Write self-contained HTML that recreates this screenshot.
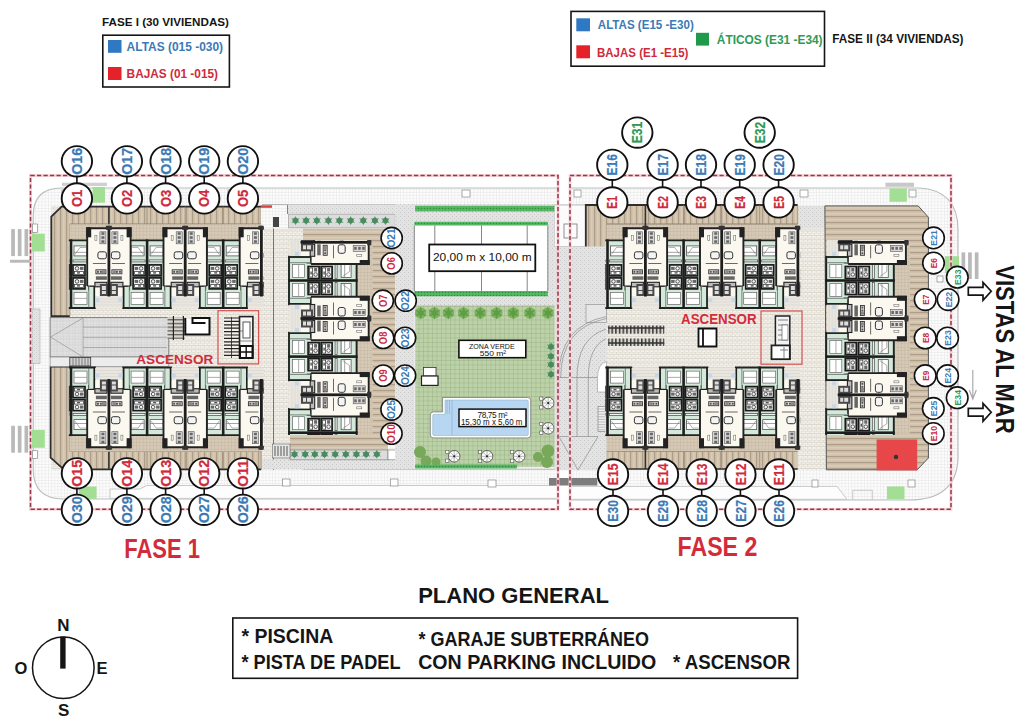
<!DOCTYPE html><html><head><meta charset="utf-8"><style>html,body{margin:0;padding:0;background:#fff;}svg{display:block;font-family:"Liberation Sans",sans-serif;}</style></head><body>
<svg width="1024" height="723" viewBox="0 0 1024 723">
<rect width="1024" height="723" fill="#fff"/>
<defs>
<pattern id="grid" width="3.2" height="3.2" patternUnits="userSpaceOnUse"><rect width="3.2" height="3.2" fill="#fbfbfb"/><path d="M0 0H3.2M0 0V3.2" stroke="#d9d9d9" stroke-width="0.6"/></pattern>
<pattern id="brick" width="4.4" height="4.4" patternUnits="userSpaceOnUse"><rect width="4.4" height="4.4" fill="#f5f2eb"/><path d="M0 0H4.4M0 2.2H4.4M0.2 0V2.2M2.4 2.2V4.4" stroke="#cfcabf" stroke-width="0.6"/></pattern>
<pattern id="deckV" width="6" height="6" patternUnits="userSpaceOnUse"><rect width="6" height="6" fill="#d0c1ab"/><rect x="0" y="0" width="1.2" height="6" fill="#ae9e89"/><rect x="3" y="0" width="1.5" height="6" fill="#d9cbb6"/></pattern>
<pattern id="deckH" width="6" height="6" patternUnits="userSpaceOnUse"><rect width="6" height="6" fill="#d0c1ab"/><rect x="0" y="0" width="6" height="1.2" fill="#ae9e89"/><rect x="0" y="3" width="6" height="1.5" fill="#d9cbb6"/></pattern>
<pattern id="tgrid" width="3.4" height="3.4" patternUnits="userSpaceOnUse"><rect width="3.4" height="3.4" fill="#d6c9b6"/><path d="M0 0H3.4M0 0V3.4" stroke="#b9aa94" stroke-width="0.6"/></pattern>
<pattern id="gravel" width="4" height="4" patternUnits="userSpaceOnUse"><rect width="4" height="4" fill="#e3e3e3"/><rect x="0" y="0" width="1" height="1" fill="#c8c8c8"/><rect x="2" y="2" width="1" height="1" fill="#cfcfcf"/></pattern>
<pattern id="grass" width="4.5" height="4.5" patternUnits="userSpaceOnUse"><rect width="4.5" height="4.5" fill="#bcd1a8"/><path d="M0 0H4.5M0 0V4.5" stroke="#91ae7e" stroke-width="0.8"/></pattern>
<pattern id="hedge" width="3" height="3" patternUnits="userSpaceOnUse"><rect width="3" height="3" fill="#56b862"/><circle cx="1.5" cy="1.5" r="0.8" fill="#2f8f3c"/></pattern>
<pattern id="bikes" width="3.7" height="8" patternUnits="userSpaceOnUse"><rect width="3.7" height="8" fill="#d9d6cf"/><rect x="1" width="1.4" height="8" fill="#2a2a2a"/></pattern>
<pattern id="bikesV" width="8" height="3.7" patternUnits="userSpaceOnUse"><rect width="8" height="3.7" fill="#d9d6cf"/><rect y="1" width="8" height="1.2" fill="#555"/></pattern>
<pattern id="ramp" width="6" height="6" patternUnits="userSpaceOnUse"><rect width="6" height="6" fill="#e0e0e0"/><path d="M0 0H6M0 3H6M0 0V6M3 0V6" stroke="#cdcdcd" stroke-width="0.5"/></pattern>
</defs>
<path d="M61.5 188 H558 V499 H63.7 Q33.2 499 33.2 469.3 V216 Q33.2 188 61.5 188 Z" fill="url(#grid)" stroke="#bdbdbd" stroke-width="1.2"/>
<path d="M570 188 H919 Q958 190 958 230 V459 Q956 500 909 500 H570 Z" fill="url(#grid)" stroke="#bdbdbd" stroke-width="1.2"/>
<path d="M110 489 H139.8 L146.5 485.5 H558 V498.4 H110 Z" fill="#fdfdfd" stroke="#c4c4c4" stroke-width="0.9"/>
<path d="M570 486.4 H837 L846.9 499.3 H570 Z" fill="#fdfdfd" stroke="#c4c4c4" stroke-width="0.9"/>
<path d="M852.7 499.5 V490.3 H872.3 V499.5" fill="none" stroke="#c4c4c4" stroke-width="0.9"/>
<path d="M262 204.6 H555 M262 469.2 H555" stroke="#a8a8a8" stroke-width="0.9"/>
<rect x="554.6" y="204.6" width="31.4" height="265.4" fill="url(#gravel)" />
<rect x="554.6" y="205.0" width="30.7" height="41.5" fill="#fbfbfb" stroke="#999" stroke-width="0.6"/>
<rect x="564.0" y="224.0" width="13.0" height="14.0" fill="none" stroke="#777" stroke-width="0.8"/>
<rect x="32.0" y="309.0" width="8.0" height="54.5" fill="url(#gravel)" stroke="#aaa" stroke-width="0.6"/>
<rect x="51.0" y="206.0" width="252.0" height="264.0" fill="url(#brick)" />
<path d="M51.3 216.6 L61.6 206.6 H261.2 V224.1 H69.9 V316.2 H51.3 Z" fill="url(#deckV)"/>
<path d="M69.9 316.2 H51.3 V216.6 L61.6 206.6 H261.2" fill="none" stroke="#2e2e2e" stroke-width="1.8"/>
<path d="M261.2 206.6 V224.1 H69.9 V316.2" fill="none" stroke="#9a8b76" stroke-width="0.8"/>
<path d="M50.6 457.6 L63.7 469.3 H261.2 V451.5 H69.9 V366.6 H50.6 Z" fill="url(#deckV)"/>
<path d="M69.9 366.6 H50.6 V457.6 L63.7 469.3 H261.2" fill="none" stroke="#2e2e2e" stroke-width="1.8"/>
<path d="M261.2 469.3 V451.5 H69.9 V366.6" fill="none" stroke="#9a8b76" stroke-width="0.8"/>
<rect x="50.1" y="317.6" width="118.7" height="39.4" fill="url(#ramp)" stroke="#777" stroke-width="0.9"/>
<path d="M83 327.1 H167 M83 337.3 H167 M83 347.5 H167 M83 318 L50.5 337 L83 357 M83.1 317.6 V357" stroke="#8a8a8a" stroke-width="0.6" fill="none"/>
<rect x="50.1" y="357.0" width="118.7" height="9.6" fill="#ececec" stroke="#888" stroke-width="0.7"/>
<rect x="69.8" y="357.5" width="20.9" height="8.5" fill="#d0d0d0" stroke="#333" stroke-width="0.8"/>
<path d="M73 358 V366 M76 358 V366 M79 358 V366 M82 358 V366 M85 358 V366 M88 358 V366" stroke="#444" stroke-width="0.6"/>
<rect x="167.5" y="317.0" width="17.2" height="22.0" fill="url(#bikesV)" />
<path d="M173.4 316 V340 M183.4 316 V340" stroke="#222" stroke-width="1.2"/>
<path d="M185.3 318 V334.5 H209.5 V318 H192.5 V323 H205.5" fill="#fff" stroke="#111" stroke-width="2"/>
<rect x="218.0" y="310.7" width="40.6" height="53.2" fill="none" stroke="#d75050" stroke-width="1.2"/>
<rect x="223.4" y="316.6" width="16.1" height="41.4" fill="#f3efe6" />
<path d="M224 318.0 H239 M224 321.4 H239 M224 324.8 H239 M224 328.2 H239 M224 331.6 H239 M224 335.0 H239 M224 338.4 H239 M224 341.8 H239 M224 345.2 H239 M224 348.6 H239 M224 352.0 H239 M224 355.4 H239 " stroke="#222" stroke-width="1.2"/>
<path d="M231.5 317 V358" stroke="#222" stroke-width="0.8"/>
<rect x="239.5" y="316.6" width="13.4" height="41.4" fill="#f7f7f7" stroke="#222" stroke-width="1.6"/>
<rect x="243.0" y="322.0" width="7.0" height="16.0" fill="#fff" stroke="#444" stroke-width="0.9"/>
<path d="M240 331 H243 M240 341 H252.5" stroke="#555" stroke-width="0.7"/>
<rect x="240.0" y="346.0" width="12.5" height="12.0" fill="#fff" stroke="#111" stroke-width="2"/>
<path d="M246.2 347 V357 M241 352 H252" stroke="#111" stroke-width="1.4"/>
<rect x="261.0" y="205.0" width="27.0" height="23.5" fill="url(#grid)" />
<rect x="288.0" y="205.0" width="15.0" height="9.2" fill="url(#gravel)" />
<rect x="260.9" y="205.3" width="11.1" height="2.5" fill="#e0403f" />
<path d="M287.6 205 V214 M273.5 228.5 V470" stroke="#555" stroke-width="0.8"/>
<rect x="273.0" y="217.0" width="6.0" height="10.0" fill="#444" />
<path d="M108.9 206.6 V228.5 M108.9 446.6 V468.8 M645.4 205 V228.5 M645.4 446.6 V469" stroke="#333" stroke-width="1.6"/>
<path d="M147.1 206.6 V224 M185.2 206.6 V228 M223.2 206.6 V224 M147.1 451.5 V468.8 M185.2 446.6 V468.8 M223.2 451.5 V468.8 M69.9 224.1 H261.2 M69.9 451.5 H261.2" stroke="#8a7c6a" stroke-width="0.7"/>
<rect x="262.0" y="459.5" width="133.2" height="9.7" fill="url(#gravel)" />
<rect x="288.0" y="204.6" width="107.2" height="9.6" fill="url(#gravel)" />
<rect x="288.7" y="214.2" width="106.5" height="13.6" fill="#dcdcdc" stroke="#999" stroke-width="0.6"/>
<rect x="303.0" y="228.7" width="92.2" height="204.3" fill="url(#deckH)" />
<rect x="290.0" y="433.0" width="98.0" height="17.0" fill="url(#deckH)" />
<rect x="290.0" y="450.0" width="98.0" height="9.8" fill="#dcdcdc" stroke="#888" stroke-width="0.7"/>
<rect x="388.0" y="450.0" width="9.0" height="9.8" fill="#fff" stroke="#777" stroke-width="0.6"/>
<rect x="272.5" y="444.0" width="17.5" height="14.0" fill="#e6e6e6" stroke="#666" stroke-width="0.6"/>
<path d="M275 446 V456 M278 446 V456 M281 446 V456 M284 446 V456 M287 446 V456" stroke="#333" stroke-width="0.8"/>
<rect x="395.2" y="204.0" width="19.4" height="265.2" fill="url(#gravel)" />
<rect x="414.6" y="204.0" width="140.0" height="101.2" fill="url(#gravel)" />
<rect x="415.2" y="205.8" width="139.1" height="5.6" fill="url(#hedge)" />
<rect x="414.3" y="221.7" width="133.5" height="74.7" fill="#fff" />
<rect x="414.3" y="221.7" width="133.5" height="3.8" fill="url(#hedge)" />
<rect x="414.3" y="291.0" width="133.5" height="5.4" fill="url(#hedge)" />
<path d="M414.3 225.5 V291 M547.8 225.5 V291 M434.8 225.5 V291 M481.5 225.5 V291 M527.2 225.5 V291" stroke="#666" stroke-width="0.8"/>
<rect x="429.2" y="244.5" width="106.1" height="26.7" fill="#fff" stroke="#111" stroke-width="1.8"/>
<text x="482.3" y="261.3" font-size="11.5" fill="#111" text-anchor="middle" textLength="98.6" lengthAdjust="spacingAndGlyphs">20,00 m x 10,00 m</text>
<rect x="415.2" y="305.2" width="139.6" height="161.7" fill="url(#grass)" />
<defs><g id="palm"><path d="M0 -4.6 L1.4 -1.5 L4.3 -2.6 L2.3 0 L4.3 2.6 L1.4 1.5 L0 4.6 L-1.4 1.5 L-4.3 2.6 L-2.3 0 L-4.3 -2.6 L-1.4 -1.5 Z" fill="#5b9a6e"/><circle r="2.8" fill="#4a8a5f"/></g><g id="bigtree"><circle r="5.8" fill="#7db35f"/><path d="M0 -6.5 L1.5 -2 L6 -3.5 L2.5 0 L6 3.5 L1.5 2 L0 6.5 L-1.5 2 L-6 3.5 L-2.5 0 L-6 -3.5 L-1.5 -2 Z" fill="#5e9c45"/></g><g id="umb"><rect x="-8.5" y="-6" width="3.2" height="3.2" fill="#fff" stroke="#555" stroke-width="0.6"/><rect x="-8.5" y="2.8" width="3.2" height="3.2" fill="#fff" stroke="#555" stroke-width="0.6"/><circle r="5.8" fill="#fff" stroke="#444" stroke-width="0.8"/><path d="M-5.5 0H5.5M0 -5.5V5.5M-3.9 -3.9L3.9 3.9M-3.9 3.9L3.9 -3.9" stroke="#666" stroke-width="0.5"/><circle r="1" fill="#222"/></g></defs>
<use href="#palm" x="295.5" y="220.6"/>
<use href="#palm" x="306.1" y="220.6"/>
<use href="#palm" x="316.8" y="220.6"/>
<use href="#palm" x="328.4" y="220.6"/>
<use href="#palm" x="339.4" y="220.6"/>
<use href="#palm" x="350.7" y="220.6"/>
<use href="#palm" x="363.3" y="220.6"/>
<use href="#palm" x="374.9" y="220.6"/>
<use href="#palm" x="385.5" y="220.6"/>
<use href="#palm" x="294.5" y="454.2"/>
<use href="#palm" x="305.2" y="454.2"/>
<use href="#palm" x="314.8" y="454.2"/>
<use href="#palm" x="324.5" y="454.2"/>
<use href="#palm" x="335.2" y="454.2"/>
<use href="#palm" x="345.8" y="454.2"/>
<use href="#palm" x="356.4" y="454.2"/>
<use href="#palm" x="366.1" y="454.2"/>
<use href="#palm" x="376.8" y="454.2"/>
<use href="#bigtree" x="420.7" y="313"/>
<use href="#bigtree" x="434.5" y="313"/>
<use href="#bigtree" x="448.4" y="313"/>
<use href="#bigtree" x="463.6" y="313"/>
<use href="#bigtree" x="480.2" y="313"/>
<use href="#bigtree" x="496.7" y="313"/>
<use href="#bigtree" x="513.3" y="313"/>
<use href="#bigtree" x="529.9" y="313"/>
<use href="#bigtree" x="547.9" y="313"/>
<use href="#palm" x="551" y="346.7"/>
<use href="#palm" x="551" y="356.3"/>
<use href="#palm" x="551" y="364.6"/>
<use href="#palm" x="551" y="374.3"/>
<circle cx="420" cy="452" r="6" fill="#78a85a"/>
<circle cx="426" cy="461" r="5.5" fill="#78a85a"/>
<circle cx="436" cy="462" r="4.5" fill="#78a85a"/>
<circle cx="538" cy="457" r="5" fill="#78a85a"/>
<circle cx="548" cy="451" r="6.5" fill="#78a85a"/>
<circle cx="547" cy="462" r="6" fill="#78a85a"/>
<rect x="415.2" y="464.5" width="101.8" height="4.0" fill="url(#hedge)" />
<path d="M442.6 397.5 H527.7 Q530.7 397.5 530.7 400.5 V434.9 Q530.7 437.9 527.7 437.9 H433.3 Q430.3 437.9 430.3 434.9 V414.9 Q430.3 411.9 433.3 411.9 H442.6 Z" fill="#fff" stroke="#777" stroke-width="0.8"/>
<path d="M445 400 H527 Q528.3 400 528.3 401.5 V434 Q528.3 435.5 527 435.5 H434 Q432.7 435.5 432.7 434 V415.5 Q432.7 414.3 434 414.3 H445 Z" fill="#b6d6f2" stroke="#8ab" stroke-width="0.5"/>
<path d="M447 400 V414 M449.5 400 V414 M452 400 V435.5" stroke="#8aa9c9" stroke-width="0.6"/>
<rect x="459.0" y="409.1" width="67.0" height="17.5" fill="#fff" stroke="#111" stroke-width="1.5"/>
<text x="492.5" y="418" font-size="8.3" fill="#111" text-anchor="middle" textLength="30">78,75 m²</text>
<text x="491.7" y="424.9" font-size="8.3" fill="#111" text-anchor="middle" textLength="61.5" lengthAdjust="spacingAndGlyphs">15,30 m x 5,60 m</text>
<use href="#umb" x="548.2" y="403"/>
<use href="#umb" x="548.2" y="428.3"/>
<use href="#umb" x="454.2" y="456.3"/>
<use href="#umb" x="487" y="456.3"/>
<use href="#umb" x="519.1" y="456.3"/>
<rect x="458.9" y="340.3" width="66.9" height="17.4" fill="#fff" stroke="#111" stroke-width="1.6"/>
<text x="491.8" y="348.6" font-size="6.8" fill="#111" text-anchor="middle" textLength="45.7" lengthAdjust="spacingAndGlyphs">ZONA VERDE</text>
<text x="493" y="356.3" font-size="7.6" fill="#111" text-anchor="middle" textLength="26.4" lengthAdjust="spacingAndGlyphs">550 m²</text>
<rect x="423.5" y="367.4" width="12.5" height="8.6" fill="#fff" stroke="#333" stroke-width="0.8"/>
<rect x="421.5" y="376.0" width="16.5" height="9.4" fill="#fff" stroke="#222" stroke-width="1.2"/>
<rect x="606.7" y="206.0" width="231.3" height="264.0" fill="url(#brick)" />
<rect x="799.0" y="205.9" width="26.0" height="22.5" fill="url(#gravel)" />
<path d="M585.8 205 H797.7 V224.1 H606.6 V304.6 H585.8 Z" fill="url(#deckV)"/>
<path d="M606.6 304.6 H585.8 V205 H797.7" fill="none" stroke="#2e2e2e" stroke-width="1.8"/>
<path d="M797.7 205 V224.1 H606.6 V304.6" fill="none" stroke="#9a8b76" stroke-width="0.8"/>
<path d="M585.8 469 H797.7 V451.5 H606.6 V366.6 H585.8 Z" fill="url(#deckV)"/>
<path d="M606.6 469 H797.7" fill="none" stroke="#2e2e2e" stroke-width="1.5"/>
<rect x="554.6" y="246.5" width="52.1" height="223.7" fill="url(#gravel)" />
<rect x="586.0" y="304.4" width="20.5" height="18.3" fill="#e6e6e6" stroke="#888" stroke-width="0.6"/>
<path d="M606 316.6 Q558.7 326 558.7 378 V470 M606 318.6 Q560.7 328 560.7 378" stroke="#8d8d8d" stroke-width="0.7" fill="none"/>
<path d="M606 329.2 Q577 338 577 378 V436.5 M606 338.7 Q588.3 347 588.3 378 V436.5 M558.7 377.5 H597.5 M557 436.5 H598 L578 470 L559 436.5" stroke="#8d8d8d" stroke-width="0.7" fill="none"/>
<path d="M606.5 361.5 Q597.5 364 597.5 378 V392 H606.5 Z" fill="#fff" stroke="#999" stroke-width="0.6"/>
<rect x="598.0" y="406.6" width="8.4" height="24.9" fill="#eee" stroke="#777" stroke-width="0.6"/>
<path d="M598 409.0 H606.4 M598 411.6 H606.4 M598 414.2 H606.4 M598 416.8 H606.4 M598 419.4 H606.4 M598 422.0 H606.4 M598 424.6 H606.4 M598 427.2 H606.4 M598 429.8 H606.4 " stroke="#888" stroke-width="0.5"/>
<rect x="549.0" y="478.0" width="48.3" height="7.5" fill="#7d7d7d" />
<path d="M824.9 205.9 H918.2 L928.4 217.2 V458 L917.2 469.8 H826.4 Z" fill="url(#deckH)" stroke="#555" stroke-width="1"/>
<rect x="876.6" y="439.5" width="40.6" height="30.9" fill="#e8474a" />
<circle cx="896" cy="457" r="2.2" fill="#333"/>
<rect x="608.2" y="325.5" width="56.1" height="8.2" fill="url(#bikes)" />
<rect x="608.2" y="338.5" width="56.1" height="7.5" fill="url(#bikes)" />
<path d="M608.2 328 H664.3 M608.2 343 H664.3" stroke="#333" stroke-width="1.3"/>
<path d="M698.5 328.5 V346.5 H716.5 V328.5 Z M703 328.5 V346.5" fill="#fff" stroke="#111" stroke-width="1.8"/>
<rect x="761.0" y="311.0" width="41.0" height="53.2" fill="none" stroke="#d75050" stroke-width="1.2"/>
<rect x="775.4" y="316.0" width="14.4" height="43.2" fill="#f2f2f2" stroke="#222" stroke-width="1.5"/>
<rect x="771.5" y="345.4" width="18.3" height="13.8" fill="#fff" stroke="#222" stroke-width="1.8"/>
<path d="M778 320 H788 M778 325 H788 M778 330 H788 M778 335 H788 M778 340 H788 M780 350 H788 M784 347 V358" stroke="#555" stroke-width="0.7"/>
<rect x="782.0" y="325.0" width="6.0" height="15.0" fill="#fff" stroke="#666" stroke-width="0.7"/>
<defs><clipPath id="blkclip"><rect x="68.8" y="200" width="194.9" height="120"/></clipPath><g id="unitsTop" clip-path="url(#blkclip)">
<rect x="51.20" y="240.40" width="39.60" height="67.60" fill="#d3eadb" />
<rect x="47.20" y="285.90" width="47.60" height="22.10" fill="#d3eadb" />
<rect x="55.00" y="245.90" width="13.00" height="10.00" fill="#fff" stroke="#555" stroke-width="0.8"/>
<rect x="55.00" y="251.90" width="13.00" height="0.60" fill="#666" />
<path d="M67.00 254.40 L62.00 247.40 M62.00 247.40 H56.00" stroke="#777" stroke-width="0.6" fill="none"/>
<rect x="54.00" y="259.90" width="15.00" height="2.00" fill="#f4f4f4" stroke="#444" stroke-width="0.7"/>
<rect x="57.00" y="264.90" width="12.00" height="11.00" fill="#f2f2f2" stroke="#1a1a1a" stroke-width="1.7"/>
<circle cx="65.00" cy="268.40" r="1.8" fill="none" stroke="#333" stroke-width="0.8"/>
<rect x="58.50" y="266.90" width="3.50" height="3.00" fill="#666" />
<rect x="58.50" y="271.40" width="9.00" height="3.00" fill="#fff" stroke="#444" stroke-width="0.8"/>
<rect x="62.00" y="272.20" width="3.00" height="1.40" fill="#555" />
<rect x="57.00" y="277.90" width="12.00" height="11.00" fill="#f2f2f2" stroke="#1a1a1a" stroke-width="1.7"/>
<circle cx="65.00" cy="281.40" r="1.8" fill="none" stroke="#333" stroke-width="0.8"/>
<rect x="58.50" y="279.90" width="3.50" height="3.00" fill="#666" />
<rect x="58.50" y="284.40" width="9.00" height="3.00" fill="#fff" stroke="#444" stroke-width="0.8"/>
<rect x="62.00" y="285.20" width="3.00" height="1.40" fill="#555" />
<rect x="55.00" y="292.40" width="13.00" height="12.00" fill="#fff" stroke="#666" stroke-width="0.7"/>
<rect x="55.00" y="297.90" width="13.00" height="0.70" fill="#888" />
<rect x="53.30" y="243.40" width="0.70" height="47.00" fill="#444" />
<rect x="74.00" y="245.90" width="13.00" height="10.00" fill="#fff" stroke="#555" stroke-width="0.8"/>
<rect x="74.00" y="251.90" width="13.00" height="0.60" fill="#666" />
<path d="M75.00 254.40 L80.00 247.40 M80.00 247.40 H86.00" stroke="#777" stroke-width="0.6" fill="none"/>
<rect x="73.00" y="259.90" width="15.00" height="2.00" fill="#f4f4f4" stroke="#444" stroke-width="0.7"/>
<rect x="73.00" y="264.90" width="12.00" height="11.00" fill="#f2f2f2" stroke="#1a1a1a" stroke-width="1.7"/>
<circle cx="77.00" cy="268.40" r="1.8" fill="none" stroke="#333" stroke-width="0.8"/>
<rect x="80.00" y="266.90" width="3.50" height="3.00" fill="#666" />
<rect x="74.50" y="271.40" width="9.00" height="3.00" fill="#fff" stroke="#444" stroke-width="0.8"/>
<rect x="77.00" y="272.20" width="3.00" height="1.40" fill="#555" />
<rect x="73.00" y="277.90" width="12.00" height="11.00" fill="#f2f2f2" stroke="#1a1a1a" stroke-width="1.7"/>
<circle cx="77.00" cy="281.40" r="1.8" fill="none" stroke="#333" stroke-width="0.8"/>
<rect x="80.00" y="279.90" width="3.50" height="3.00" fill="#666" />
<rect x="74.50" y="284.40" width="9.00" height="3.00" fill="#fff" stroke="#444" stroke-width="0.8"/>
<rect x="77.00" y="285.20" width="3.00" height="1.40" fill="#555" />
<rect x="74.00" y="292.40" width="13.00" height="12.00" fill="#fff" stroke="#666" stroke-width="0.7"/>
<rect x="74.00" y="297.90" width="13.00" height="0.70" fill="#888" />
<rect x="88.00" y="243.40" width="0.70" height="47.00" fill="#444" />
<path d="M47.20 308.00 V285.90 H51.20 V240.40 H90.80 V285.90 H94.80 V308.00 Z" fill="none" stroke="#222" stroke-width="1.9"/>
<path d="M53.20 286.40 V308.00 M88.80 286.40 V308.00" stroke="#555" stroke-width="0.7"/>
<rect x="69.70" y="239.40" width="2.60" height="69.60" fill="#1e1e1e" />
<rect x="127.30" y="240.40" width="39.60" height="67.60" fill="#d3eadb" />
<rect x="123.30" y="285.90" width="47.60" height="22.10" fill="#d3eadb" />
<rect x="131.10" y="245.90" width="13.00" height="10.00" fill="#fff" stroke="#555" stroke-width="0.8"/>
<rect x="131.10" y="251.90" width="13.00" height="0.60" fill="#666" />
<path d="M143.10 254.40 L138.10 247.40 M138.10 247.40 H132.10" stroke="#777" stroke-width="0.6" fill="none"/>
<rect x="130.10" y="259.90" width="15.00" height="2.00" fill="#f4f4f4" stroke="#444" stroke-width="0.7"/>
<rect x="133.10" y="264.90" width="12.00" height="11.00" fill="#f2f2f2" stroke="#1a1a1a" stroke-width="1.7"/>
<circle cx="141.10" cy="268.40" r="1.8" fill="none" stroke="#333" stroke-width="0.8"/>
<rect x="134.60" y="266.90" width="3.50" height="3.00" fill="#666" />
<rect x="134.60" y="271.40" width="9.00" height="3.00" fill="#fff" stroke="#444" stroke-width="0.8"/>
<rect x="138.10" y="272.20" width="3.00" height="1.40" fill="#555" />
<rect x="133.10" y="277.90" width="12.00" height="11.00" fill="#f2f2f2" stroke="#1a1a1a" stroke-width="1.7"/>
<circle cx="141.10" cy="281.40" r="1.8" fill="none" stroke="#333" stroke-width="0.8"/>
<rect x="134.60" y="279.90" width="3.50" height="3.00" fill="#666" />
<rect x="134.60" y="284.40" width="9.00" height="3.00" fill="#fff" stroke="#444" stroke-width="0.8"/>
<rect x="138.10" y="285.20" width="3.00" height="1.40" fill="#555" />
<rect x="131.10" y="292.40" width="13.00" height="12.00" fill="#fff" stroke="#666" stroke-width="0.7"/>
<rect x="131.10" y="297.90" width="13.00" height="0.70" fill="#888" />
<rect x="129.40" y="243.40" width="0.70" height="47.00" fill="#444" />
<rect x="150.10" y="245.90" width="13.00" height="10.00" fill="#fff" stroke="#555" stroke-width="0.8"/>
<rect x="150.10" y="251.90" width="13.00" height="0.60" fill="#666" />
<path d="M151.10 254.40 L156.10 247.40 M156.10 247.40 H162.10" stroke="#777" stroke-width="0.6" fill="none"/>
<rect x="149.10" y="259.90" width="15.00" height="2.00" fill="#f4f4f4" stroke="#444" stroke-width="0.7"/>
<rect x="149.10" y="264.90" width="12.00" height="11.00" fill="#f2f2f2" stroke="#1a1a1a" stroke-width="1.7"/>
<circle cx="153.10" cy="268.40" r="1.8" fill="none" stroke="#333" stroke-width="0.8"/>
<rect x="156.10" y="266.90" width="3.50" height="3.00" fill="#666" />
<rect x="150.60" y="271.40" width="9.00" height="3.00" fill="#fff" stroke="#444" stroke-width="0.8"/>
<rect x="153.10" y="272.20" width="3.00" height="1.40" fill="#555" />
<rect x="149.10" y="277.90" width="12.00" height="11.00" fill="#f2f2f2" stroke="#1a1a1a" stroke-width="1.7"/>
<circle cx="153.10" cy="281.40" r="1.8" fill="none" stroke="#333" stroke-width="0.8"/>
<rect x="156.10" y="279.90" width="3.50" height="3.00" fill="#666" />
<rect x="150.60" y="284.40" width="9.00" height="3.00" fill="#fff" stroke="#444" stroke-width="0.8"/>
<rect x="153.10" y="285.20" width="3.00" height="1.40" fill="#555" />
<rect x="150.10" y="292.40" width="13.00" height="12.00" fill="#fff" stroke="#666" stroke-width="0.7"/>
<rect x="150.10" y="297.90" width="13.00" height="0.70" fill="#888" />
<rect x="164.10" y="243.40" width="0.70" height="47.00" fill="#444" />
<path d="M123.30 308.00 V285.90 H127.30 V240.40 H166.90 V285.90 H170.90 V308.00 Z" fill="none" stroke="#222" stroke-width="1.9"/>
<path d="M129.30 286.40 V308.00 M164.90 286.40 V308.00" stroke="#555" stroke-width="0.7"/>
<rect x="145.80" y="239.40" width="2.60" height="69.60" fill="#1e1e1e" />
<rect x="203.40" y="240.40" width="39.60" height="67.60" fill="#d3eadb" />
<rect x="199.40" y="285.90" width="47.60" height="22.10" fill="#d3eadb" />
<rect x="207.20" y="245.90" width="13.00" height="10.00" fill="#fff" stroke="#555" stroke-width="0.8"/>
<rect x="207.20" y="251.90" width="13.00" height="0.60" fill="#666" />
<path d="M219.20 254.40 L214.20 247.40 M214.20 247.40 H208.20" stroke="#777" stroke-width="0.6" fill="none"/>
<rect x="206.20" y="259.90" width="15.00" height="2.00" fill="#f4f4f4" stroke="#444" stroke-width="0.7"/>
<rect x="209.20" y="264.90" width="12.00" height="11.00" fill="#f2f2f2" stroke="#1a1a1a" stroke-width="1.7"/>
<circle cx="217.20" cy="268.40" r="1.8" fill="none" stroke="#333" stroke-width="0.8"/>
<rect x="210.70" y="266.90" width="3.50" height="3.00" fill="#666" />
<rect x="210.70" y="271.40" width="9.00" height="3.00" fill="#fff" stroke="#444" stroke-width="0.8"/>
<rect x="214.20" y="272.20" width="3.00" height="1.40" fill="#555" />
<rect x="209.20" y="277.90" width="12.00" height="11.00" fill="#f2f2f2" stroke="#1a1a1a" stroke-width="1.7"/>
<circle cx="217.20" cy="281.40" r="1.8" fill="none" stroke="#333" stroke-width="0.8"/>
<rect x="210.70" y="279.90" width="3.50" height="3.00" fill="#666" />
<rect x="210.70" y="284.40" width="9.00" height="3.00" fill="#fff" stroke="#444" stroke-width="0.8"/>
<rect x="214.20" y="285.20" width="3.00" height="1.40" fill="#555" />
<rect x="207.20" y="292.40" width="13.00" height="12.00" fill="#fff" stroke="#666" stroke-width="0.7"/>
<rect x="207.20" y="297.90" width="13.00" height="0.70" fill="#888" />
<rect x="205.50" y="243.40" width="0.70" height="47.00" fill="#444" />
<rect x="226.20" y="245.90" width="13.00" height="10.00" fill="#fff" stroke="#555" stroke-width="0.8"/>
<rect x="226.20" y="251.90" width="13.00" height="0.60" fill="#666" />
<path d="M227.20 254.40 L232.20 247.40 M232.20 247.40 H238.20" stroke="#777" stroke-width="0.6" fill="none"/>
<rect x="225.20" y="259.90" width="15.00" height="2.00" fill="#f4f4f4" stroke="#444" stroke-width="0.7"/>
<rect x="225.20" y="264.90" width="12.00" height="11.00" fill="#f2f2f2" stroke="#1a1a1a" stroke-width="1.7"/>
<circle cx="229.20" cy="268.40" r="1.8" fill="none" stroke="#333" stroke-width="0.8"/>
<rect x="232.20" y="266.90" width="3.50" height="3.00" fill="#666" />
<rect x="226.70" y="271.40" width="9.00" height="3.00" fill="#fff" stroke="#444" stroke-width="0.8"/>
<rect x="229.20" y="272.20" width="3.00" height="1.40" fill="#555" />
<rect x="225.20" y="277.90" width="12.00" height="11.00" fill="#f2f2f2" stroke="#1a1a1a" stroke-width="1.7"/>
<circle cx="229.20" cy="281.40" r="1.8" fill="none" stroke="#333" stroke-width="0.8"/>
<rect x="232.20" y="279.90" width="3.50" height="3.00" fill="#666" />
<rect x="226.70" y="284.40" width="9.00" height="3.00" fill="#fff" stroke="#444" stroke-width="0.8"/>
<rect x="229.20" y="285.20" width="3.00" height="1.40" fill="#555" />
<rect x="226.20" y="292.40" width="13.00" height="12.00" fill="#fff" stroke="#666" stroke-width="0.7"/>
<rect x="226.20" y="297.90" width="13.00" height="0.70" fill="#888" />
<rect x="240.20" y="243.40" width="0.70" height="47.00" fill="#444" />
<path d="M199.40 308.00 V285.90 H203.40 V240.40 H243.00 V285.90 H247.00 V308.00 Z" fill="none" stroke="#222" stroke-width="1.9"/>
<path d="M205.40 286.40 V308.00 M241.00 286.40 V308.00" stroke="#555" stroke-width="0.7"/>
<rect x="221.90" y="239.40" width="2.60" height="69.60" fill="#1e1e1e" />
<rect x="87.20" y="228.30" width="43.40" height="57.70" fill="#fbf8ef" />
<rect x="94.30" y="285.50" width="29.20" height="10.50" fill="#fbf8ef" />
<rect x="94.40" y="296.00" width="29.00" height="11.50" fill="#e9e6df" />
<path d="M94.40 299.00 H123.40 M94.40 302.00 H123.40 M94.40 305.00 H123.40" stroke="#d4d0c8" stroke-width="0.5"/>
<rect x="99.90" y="231.80" width="6.00" height="12.00" fill="#d8d8d8" stroke="#555" stroke-width="0.6"/>
<rect x="101.40" y="232.30" width="3.00" height="2.50" fill="#666" />
<rect x="101.40" y="236.30" width="3.00" height="2.50" fill="#666" />
<rect x="101.40" y="240.30" width="3.00" height="2.50" fill="#666" />
<rect x="94.90" y="235.30" width="2.00" height="5.00" fill="none" stroke="#777" stroke-width="0.6"/>
<rect x="97.90" y="251.80" width="8.50" height="7" rx="2" fill="#f4f4f4" stroke="#333" stroke-width="1"/>
<rect x="92.90" y="263.10" width="13.00" height="0.80" fill="#444" />
<rect x="95.90" y="269.80" width="10.00" height="4.00" fill="#eee" stroke="#333" stroke-width="0.9"/>
<rect x="102.90" y="270.80" width="2.00" height="2.00" fill="#555" />
<rect x="99.90" y="270.80" width="2.00" height="2.00" fill="#555" />
<rect x="96.90" y="270.80" width="2.00" height="2.00" fill="#555" />
<rect x="101.90" y="270.30" width="3.00" height="3.00" fill="#888" />
<rect x="95.90" y="276.30" width="11.00" height="3.50" fill="#666" />
<rect x="94.90" y="282.30" width="12.00" height="4.50" fill="#bdbdbd" stroke="#222" stroke-width="1.1"/>
<rect x="93.50" y="286.00" width="1.60" height="22.30" fill="#1e1e1e" />
<rect x="95.40" y="298.00" width="4.00" height="4.00" fill="#c5d8ea" />
<rect x="111.90" y="231.80" width="6.00" height="12.00" fill="#d8d8d8" stroke="#555" stroke-width="0.6"/>
<rect x="113.40" y="232.30" width="3.00" height="2.50" fill="#666" />
<rect x="113.40" y="236.30" width="3.00" height="2.50" fill="#666" />
<rect x="113.40" y="240.30" width="3.00" height="2.50" fill="#666" />
<rect x="120.90" y="235.30" width="2.00" height="5.00" fill="none" stroke="#777" stroke-width="0.6"/>
<rect x="111.40" y="251.80" width="8.50" height="7" rx="2" fill="#f4f4f4" stroke="#333" stroke-width="1"/>
<rect x="111.90" y="263.10" width="13.00" height="0.80" fill="#444" />
<rect x="111.90" y="269.80" width="10.00" height="4.00" fill="#eee" stroke="#333" stroke-width="0.9"/>
<rect x="112.90" y="270.80" width="2.00" height="2.00" fill="#555" />
<rect x="115.90" y="270.80" width="2.00" height="2.00" fill="#555" />
<rect x="118.90" y="270.80" width="2.00" height="2.00" fill="#555" />
<rect x="112.90" y="270.30" width="3.00" height="3.00" fill="#888" />
<rect x="110.90" y="276.30" width="11.00" height="3.50" fill="#666" />
<rect x="110.90" y="282.30" width="12.00" height="4.50" fill="#bdbdbd" stroke="#222" stroke-width="1.1"/>
<rect x="122.70" y="286.00" width="1.60" height="22.30" fill="#1e1e1e" />
<rect x="118.40" y="298.00" width="4.00" height="4.00" fill="#c5d8ea" />
<rect x="99.90" y="284.00" width="18.00" height="12.00" fill="#4a4a4a" />
<rect x="101.90" y="286.00" width="4.00" height="4.00" fill="#ddd" />
<rect x="111.90" y="286.00" width="4.00" height="4.00" fill="#ddd" />
<rect x="101.90" y="291.00" width="4.00" height="3.00" fill="#ddd" />
<rect x="111.90" y="291.00" width="4.00" height="3.00" fill="#ddd" />
<path d="M87.20 286.00 V228.30 H130.60 V286.00" fill="none" stroke="#222" stroke-width="1.9"/>
<path d="M87.20 286.00 H94.30 M130.60 286.00 H123.50" stroke="#222" stroke-width="1.2"/>
<rect x="86.20" y="227.30" width="5.00" height="10.00" fill="#222" />
<rect x="126.60" y="227.30" width="5.00" height="10.00" fill="#222" />
<rect x="107.50" y="225.80" width="2.80" height="70.70" fill="#1e1e1e" />
<rect x="105.90" y="225.80" width="6.00" height="4.00" fill="#333" />
<rect x="163.50" y="228.30" width="43.40" height="57.70" fill="#fbf8ef" />
<rect x="170.60" y="285.50" width="29.20" height="10.50" fill="#fbf8ef" />
<rect x="170.70" y="296.00" width="29.00" height="11.50" fill="#e9e6df" />
<path d="M170.70 299.00 H199.70 M170.70 302.00 H199.70 M170.70 305.00 H199.70" stroke="#d4d0c8" stroke-width="0.5"/>
<rect x="176.20" y="231.80" width="6.00" height="12.00" fill="#d8d8d8" stroke="#555" stroke-width="0.6"/>
<rect x="177.70" y="232.30" width="3.00" height="2.50" fill="#666" />
<rect x="177.70" y="236.30" width="3.00" height="2.50" fill="#666" />
<rect x="177.70" y="240.30" width="3.00" height="2.50" fill="#666" />
<rect x="171.20" y="235.30" width="2.00" height="5.00" fill="none" stroke="#777" stroke-width="0.6"/>
<rect x="174.20" y="251.80" width="8.50" height="7" rx="2" fill="#f4f4f4" stroke="#333" stroke-width="1"/>
<rect x="169.20" y="263.10" width="13.00" height="0.80" fill="#444" />
<rect x="172.20" y="269.80" width="10.00" height="4.00" fill="#eee" stroke="#333" stroke-width="0.9"/>
<rect x="179.20" y="270.80" width="2.00" height="2.00" fill="#555" />
<rect x="176.20" y="270.80" width="2.00" height="2.00" fill="#555" />
<rect x="173.20" y="270.80" width="2.00" height="2.00" fill="#555" />
<rect x="178.20" y="270.30" width="3.00" height="3.00" fill="#888" />
<rect x="172.20" y="276.30" width="11.00" height="3.50" fill="#666" />
<rect x="171.20" y="282.30" width="12.00" height="4.50" fill="#bdbdbd" stroke="#222" stroke-width="1.1"/>
<rect x="169.80" y="286.00" width="1.60" height="22.30" fill="#1e1e1e" />
<rect x="171.70" y="298.00" width="4.00" height="4.00" fill="#c5d8ea" />
<rect x="188.20" y="231.80" width="6.00" height="12.00" fill="#d8d8d8" stroke="#555" stroke-width="0.6"/>
<rect x="189.70" y="232.30" width="3.00" height="2.50" fill="#666" />
<rect x="189.70" y="236.30" width="3.00" height="2.50" fill="#666" />
<rect x="189.70" y="240.30" width="3.00" height="2.50" fill="#666" />
<rect x="197.20" y="235.30" width="2.00" height="5.00" fill="none" stroke="#777" stroke-width="0.6"/>
<rect x="187.70" y="251.80" width="8.50" height="7" rx="2" fill="#f4f4f4" stroke="#333" stroke-width="1"/>
<rect x="188.20" y="263.10" width="13.00" height="0.80" fill="#444" />
<rect x="188.20" y="269.80" width="10.00" height="4.00" fill="#eee" stroke="#333" stroke-width="0.9"/>
<rect x="189.20" y="270.80" width="2.00" height="2.00" fill="#555" />
<rect x="192.20" y="270.80" width="2.00" height="2.00" fill="#555" />
<rect x="195.20" y="270.80" width="2.00" height="2.00" fill="#555" />
<rect x="189.20" y="270.30" width="3.00" height="3.00" fill="#888" />
<rect x="187.20" y="276.30" width="11.00" height="3.50" fill="#666" />
<rect x="187.20" y="282.30" width="12.00" height="4.50" fill="#bdbdbd" stroke="#222" stroke-width="1.1"/>
<rect x="199.00" y="286.00" width="1.60" height="22.30" fill="#1e1e1e" />
<rect x="194.70" y="298.00" width="4.00" height="4.00" fill="#c5d8ea" />
<rect x="176.20" y="284.00" width="18.00" height="12.00" fill="#4a4a4a" />
<rect x="178.20" y="286.00" width="4.00" height="4.00" fill="#ddd" />
<rect x="188.20" y="286.00" width="4.00" height="4.00" fill="#ddd" />
<rect x="178.20" y="291.00" width="4.00" height="3.00" fill="#ddd" />
<rect x="188.20" y="291.00" width="4.00" height="3.00" fill="#ddd" />
<path d="M163.50 286.00 V228.30 H206.90 V286.00" fill="none" stroke="#222" stroke-width="1.9"/>
<path d="M163.50 286.00 H170.60 M206.90 286.00 H199.80" stroke="#222" stroke-width="1.2"/>
<rect x="162.50" y="227.30" width="5.00" height="10.00" fill="#222" />
<rect x="202.90" y="227.30" width="5.00" height="10.00" fill="#222" />
<rect x="183.80" y="225.80" width="2.80" height="70.70" fill="#1e1e1e" />
<rect x="182.20" y="225.80" width="6.00" height="4.00" fill="#333" />
<rect x="239.70" y="228.30" width="43.40" height="57.70" fill="#fbf8ef" />
<rect x="246.80" y="285.50" width="29.20" height="10.50" fill="#fbf8ef" />
<rect x="246.90" y="296.00" width="29.00" height="11.50" fill="#e9e6df" />
<path d="M246.90 299.00 H275.90 M246.90 302.00 H275.90 M246.90 305.00 H275.90" stroke="#d4d0c8" stroke-width="0.5"/>
<rect x="252.40" y="231.80" width="6.00" height="12.00" fill="#d8d8d8" stroke="#555" stroke-width="0.6"/>
<rect x="253.90" y="232.30" width="3.00" height="2.50" fill="#666" />
<rect x="253.90" y="236.30" width="3.00" height="2.50" fill="#666" />
<rect x="253.90" y="240.30" width="3.00" height="2.50" fill="#666" />
<rect x="247.40" y="235.30" width="2.00" height="5.00" fill="none" stroke="#777" stroke-width="0.6"/>
<rect x="250.40" y="251.80" width="8.50" height="7" rx="2" fill="#f4f4f4" stroke="#333" stroke-width="1"/>
<rect x="245.40" y="263.10" width="13.00" height="0.80" fill="#444" />
<rect x="248.40" y="269.80" width="10.00" height="4.00" fill="#eee" stroke="#333" stroke-width="0.9"/>
<rect x="255.40" y="270.80" width="2.00" height="2.00" fill="#555" />
<rect x="252.40" y="270.80" width="2.00" height="2.00" fill="#555" />
<rect x="249.40" y="270.80" width="2.00" height="2.00" fill="#555" />
<rect x="254.40" y="270.30" width="3.00" height="3.00" fill="#888" />
<rect x="248.40" y="276.30" width="11.00" height="3.50" fill="#666" />
<rect x="247.40" y="282.30" width="12.00" height="4.50" fill="#bdbdbd" stroke="#222" stroke-width="1.1"/>
<rect x="246.00" y="286.00" width="1.60" height="22.30" fill="#1e1e1e" />
<rect x="247.90" y="298.00" width="4.00" height="4.00" fill="#c5d8ea" />
<rect x="264.40" y="231.80" width="6.00" height="12.00" fill="#d8d8d8" stroke="#555" stroke-width="0.6"/>
<rect x="265.90" y="232.30" width="3.00" height="2.50" fill="#666" />
<rect x="265.90" y="236.30" width="3.00" height="2.50" fill="#666" />
<rect x="265.90" y="240.30" width="3.00" height="2.50" fill="#666" />
<rect x="273.40" y="235.30" width="2.00" height="5.00" fill="none" stroke="#777" stroke-width="0.6"/>
<rect x="263.90" y="251.80" width="8.50" height="7" rx="2" fill="#f4f4f4" stroke="#333" stroke-width="1"/>
<rect x="264.40" y="263.10" width="13.00" height="0.80" fill="#444" />
<rect x="264.40" y="269.80" width="10.00" height="4.00" fill="#eee" stroke="#333" stroke-width="0.9"/>
<rect x="265.40" y="270.80" width="2.00" height="2.00" fill="#555" />
<rect x="268.40" y="270.80" width="2.00" height="2.00" fill="#555" />
<rect x="271.40" y="270.80" width="2.00" height="2.00" fill="#555" />
<rect x="265.40" y="270.30" width="3.00" height="3.00" fill="#888" />
<rect x="263.40" y="276.30" width="11.00" height="3.50" fill="#666" />
<rect x="263.40" y="282.30" width="12.00" height="4.50" fill="#bdbdbd" stroke="#222" stroke-width="1.1"/>
<rect x="275.20" y="286.00" width="1.60" height="22.30" fill="#1e1e1e" />
<rect x="270.90" y="298.00" width="4.00" height="4.00" fill="#c5d8ea" />
<rect x="252.40" y="284.00" width="18.00" height="12.00" fill="#4a4a4a" />
<rect x="254.40" y="286.00" width="4.00" height="4.00" fill="#ddd" />
<rect x="264.40" y="286.00" width="4.00" height="4.00" fill="#ddd" />
<rect x="254.40" y="291.00" width="4.00" height="3.00" fill="#ddd" />
<rect x="264.40" y="291.00" width="4.00" height="3.00" fill="#ddd" />
<path d="M239.70 286.00 V228.30 H283.10 V286.00" fill="none" stroke="#222" stroke-width="1.9"/>
<path d="M239.70 286.00 H246.80 M283.10 286.00 H276.00" stroke="#222" stroke-width="1.2"/>
<rect x="238.70" y="227.30" width="5.00" height="10.00" fill="#222" />
<rect x="279.10" y="227.30" width="5.00" height="10.00" fill="#222" />
<rect x="260.00" y="225.80" width="2.80" height="70.70" fill="#1e1e1e" />
<rect x="258.40" y="225.80" width="6.00" height="4.00" fill="#333" />
</g></defs>
<rect x="69.9" y="224.3" width="191.3" height="16.1" fill="url(#tgrid)" />
<rect x="69.9" y="435.1" width="191.3" height="16.4" fill="url(#tgrid)" />
<rect x="606.6" y="224.3" width="191.1" height="16.1" fill="url(#tgrid)" />
<rect x="606.6" y="435.1" width="191.1" height="16.4" fill="url(#tgrid)" />
<rect x="356.6" y="242.5" width="16.1" height="191.3" fill="url(#tgrid)" />
<rect x="893.8" y="242.5" width="16.1" height="191.3" fill="url(#tgrid)" />
<path d="M683.6 205 V224 M721.7 205 V228 M759.7 205 V224 M683.6 451.5 V469 M721.7 446.6 V469 M759.7 451.5 V469 M606.6 224.1 H797.7 M606.6 451.5 H797.7" stroke="#8a7c6a" stroke-width="0.7"/>
<path d="M645.4 205 V228.5 M645.4 446.6 V469" stroke="#333" stroke-width="1.6"/>
<use href="#unitsTop"/>
<use href="#unitsTop" transform="matrix(1,0,0,-1,0,675.5)"/>
<use href="#unitsTop" transform="translate(536.5,0)"/>
<use href="#unitsTop" transform="matrix(1,0,0,-1,536.5,675.5)"/>
<use href="#unitsTop" transform="matrix(0,-1,-1,0,597,503.7)"/>
<use href="#unitsTop" transform="matrix(0,-1,-1,0,1134.2,503.7)"/>
<rect x="92.5" y="187.0" width="12.5" height="15.7" fill="#a2df94" />
<rect x="32.0" y="233.7" width="12.8" height="17.8" fill="#a2df94" />
<rect x="32.0" y="429.9" width="12.8" height="17.9" fill="#a2df94" />
<rect x="78.8" y="486.5" width="17.8" height="12.3" fill="#a2df94" />
<rect x="889.5" y="188.5" width="17.4" height="13.3" fill="#a2df94" />
<rect x="887.0" y="486.4" width="17.5" height="12.7" fill="#a2df94" />
<rect x="945.0" y="256.2" width="14.0" height="16.8" fill="#a2df94" />
<rect x="885.4" y="182.7" width="28.6" height="4.1" fill="#c8c8c8" />
<rect x="62.0" y="182.7" width="45.0" height="3.3" fill="#d0d0d0" />
<rect x="30.5" y="175.5" width="527.5" height="333.8" fill="none" stroke="#f5d3d7" stroke-width="2.8"/>
<rect x="570" y="175.5" width="381" height="333.8" fill="none" stroke="#f5d3d7" stroke-width="2.8"/>
<rect x="30.5" y="175.5" width="527.5" height="333.8" fill="none" stroke="#97364a" stroke-width="1.5" stroke-dasharray="4.2,2.3"/>
<rect x="570" y="175.5" width="381" height="333.8" fill="none" stroke="#97364a" stroke-width="1.5" stroke-dasharray="4.2,2.3"/>
<rect x="11.2" y="229.1" width="3.7" height="27.0" fill="#b9b9b9" />
<rect x="17.8" y="229.1" width="3.7" height="27.0" fill="#b9b9b9" />
<rect x="24.5" y="229.1" width="3.7" height="27.0" fill="#b9b9b9" />
<rect x="11.2" y="425.8" width="3.7" height="26.9" fill="#b9b9b9" />
<rect x="17.8" y="425.8" width="3.7" height="26.9" fill="#b9b9b9" />
<rect x="24.5" y="425.8" width="3.7" height="26.9" fill="#b9b9b9" />
<rect x="10.0" y="259.8" width="20.0" height="2.9" fill="#b9b9b9" />
<rect x="961.5" y="252.4" width="3.7" height="26.6" fill="#b9b9b9" />
<rect x="968.1" y="252.4" width="3.7" height="26.6" fill="#b9b9b9" />
<rect x="974.8" y="252.4" width="3.7" height="26.6" fill="#b9b9b9" />
<path d="M972.8 370 V397 M969.3 390 L972.8 399 L976.3 390" stroke="#aaa" stroke-width="1.2" fill="none"/>
<rect x="32.5" y="224.0" width="5.0" height="8.4" fill="#fff" stroke="#888" stroke-width="0.7"/>
<rect x="32.5" y="450.7" width="5.0" height="7.8" fill="#fff" stroke="#888" stroke-width="0.7"/>
<rect x="937.0" y="276.0" width="6.0" height="6.0" fill="#fff" stroke="#888" stroke-width="0.7"/>
<rect x="62.0" y="190.0" width="8.0" height="7.0" fill="#fff" stroke="#888" stroke-width="0.7"/>
<rect x="812.0" y="480.0" width="6.0" height="7.0" fill="#fff" stroke="#888" stroke-width="0.7"/>
<rect x="908.0" y="480.0" width="7.0" height="7.0" fill="#fff" stroke="#888" stroke-width="0.7"/>
<rect x="282.4" y="479.0" width="7.6" height="7.0" fill="#fff" stroke="#888" stroke-width="0.7"/>
<rect x="390.3" y="479.0" width="7.7" height="7.0" fill="#fff" stroke="#888" stroke-width="0.7"/>
<rect x="488.0" y="480.0" width="8.0" height="7.0" fill="#fff" stroke="#888" stroke-width="0.7"/>
<rect x="228.0" y="190.0" width="8.0" height="7.0" fill="#fff" stroke="#888" stroke-width="0.7"/>
<rect x="462.0" y="190.0" width="8.0" height="7.0" fill="#fff" stroke="#888" stroke-width="0.7"/>
<rect x="574.0" y="190.0" width="7.0" height="7.0" fill="#fff" stroke="#888" stroke-width="0.7"/>
<rect x="800.0" y="190.0" width="8.0" height="7.0" fill="#fff" stroke="#888" stroke-width="0.7"/>
<rect x="909.0" y="190.0" width="7.0" height="7.0" fill="#fff" stroke="#888" stroke-width="0.7"/>
<text x="136.3" y="363.5" font-size="13.2" font-weight="bold" fill="#d42b3a" textLength="77" lengthAdjust="spacingAndGlyphs">ASCENSOR</text>
<text x="681" y="324.4" font-size="13.8" font-weight="bold" fill="#d42b3a" textLength="75.6" lengthAdjust="spacingAndGlyphs">ASCENSOR</text>
<text x="102" y="26" font-size="11.8" fill="#151515" font-weight="bold" text-anchor="start" textLength="127" lengthAdjust="spacingAndGlyphs" >FASE I (30 VIVIENDAS)</text>
<rect x="102.8" y="35.2" width="126.6" height="51.8" fill="none" stroke="#151515" stroke-width="1.6"/>
<rect x="108" y="40" width="13.5" height="12.8" fill="#2f78c2"/>
<text x="126.6" y="51" font-size="12.4" fill="#3a7ab6" font-weight="bold" text-anchor="start" textLength="96.5" lengthAdjust="spacingAndGlyphs" >ALTAS (015 -030)</text>
<rect x="108" y="67" width="13.5" height="13" fill="#e52229"/>
<text x="126.6" y="78" font-size="12.4" fill="#cf2a3c" font-weight="bold" text-anchor="start" textLength="91.4" lengthAdjust="spacingAndGlyphs" >BAJAS (01 -015)</text>
<rect x="571" y="11.4" width="253.5" height="54.8" fill="#fff" stroke="#151515" stroke-width="1.6"/>
<rect x="576.3" y="18.3" width="13.7" height="13" fill="#2f78c2"/>
<text x="597.8" y="29.2" font-size="12" fill="#3a7ab6" font-weight="bold" text-anchor="start" textLength="96" lengthAdjust="spacingAndGlyphs" >ALTAS (E15 -E30)</text>
<rect x="576.3" y="45.3" width="13.7" height="13" fill="#e52229"/>
<text x="597" y="56.6" font-size="12" fill="#cf2a3c" font-weight="bold" text-anchor="start" textLength="91.4" lengthAdjust="spacingAndGlyphs" >BAJAS (E1 -E15)</text>
<rect x="696" y="32.8" width="13" height="12.8" fill="#1f9a4a"/>
<text x="716.8" y="44" font-size="12" fill="#2e9a55" font-weight="bold" text-anchor="start" textLength="105.8" lengthAdjust="spacingAndGlyphs" >ÁTICOS (E31 -E34)</text>
<text x="832.2" y="43.2" font-size="12.6" fill="#151515" font-weight="bold" text-anchor="start" textLength="131.2" lengthAdjust="spacingAndGlyphs" >FASE II (34 VIVIENDAS)</text>
<line x1="76.9" y1="176" x2="76.9" y2="184" stroke="#111" stroke-width="1.6"/>
<circle cx="76.9" cy="161.3" r="15.2" fill="#fff" stroke="#111" stroke-width="1.9"/>
<text transform="translate(82.01,161.3) rotate(-90)" x="0" y="0" font-size="14.2" fill="#3a7ab6" font-weight="bold" text-anchor="middle" textLength="27" lengthAdjust="spacingAndGlyphs" stroke="#3a7ab6" stroke-width="0.2">O16</text>
<circle cx="76.9" cy="198.4" r="15.2" fill="#fff" stroke="#111" stroke-width="1.9"/>
<text transform="translate(82.01,198.4) rotate(-90)" x="0" y="0" font-size="14.2" fill="#cf2a3c" font-weight="bold" text-anchor="middle" textLength="17.4" lengthAdjust="spacingAndGlyphs" stroke="#cf2a3c" stroke-width="0.2">O1</text>
<line x1="76.9" y1="488" x2="76.9" y2="495" stroke="#111" stroke-width="1.6"/>
<circle cx="76.9" cy="473.3" r="15.2" fill="#fff" stroke="#111" stroke-width="1.9"/>
<text transform="translate(82.01,473.3) rotate(-90)" x="0" y="0" font-size="14.2" fill="#cf2a3c" font-weight="bold" text-anchor="middle" textLength="27" lengthAdjust="spacingAndGlyphs" stroke="#cf2a3c" stroke-width="0.2">O15</text>
<circle cx="76.9" cy="509.8" r="15.2" fill="#fff" stroke="#111" stroke-width="1.9"/>
<text transform="translate(82.01,509.8) rotate(-90)" x="0" y="0" font-size="14.2" fill="#3a7ab6" font-weight="bold" text-anchor="middle" textLength="27" lengthAdjust="spacingAndGlyphs" stroke="#3a7ab6" stroke-width="0.2">O30</text>
<line x1="126.9" y1="176" x2="126.9" y2="184" stroke="#111" stroke-width="1.6"/>
<circle cx="126.9" cy="161.3" r="15.2" fill="#fff" stroke="#111" stroke-width="1.9"/>
<text transform="translate(132.01,161.3) rotate(-90)" x="0" y="0" font-size="14.2" fill="#3a7ab6" font-weight="bold" text-anchor="middle" textLength="27" lengthAdjust="spacingAndGlyphs" stroke="#3a7ab6" stroke-width="0.2">O17</text>
<circle cx="126.9" cy="198.4" r="15.2" fill="#fff" stroke="#111" stroke-width="1.9"/>
<text transform="translate(132.01,198.4) rotate(-90)" x="0" y="0" font-size="14.2" fill="#cf2a3c" font-weight="bold" text-anchor="middle" textLength="17.4" lengthAdjust="spacingAndGlyphs" stroke="#cf2a3c" stroke-width="0.2">O2</text>
<line x1="126.9" y1="488" x2="126.9" y2="495" stroke="#111" stroke-width="1.6"/>
<circle cx="126.9" cy="473.3" r="15.2" fill="#fff" stroke="#111" stroke-width="1.9"/>
<text transform="translate(132.01,473.3) rotate(-90)" x="0" y="0" font-size="14.2" fill="#cf2a3c" font-weight="bold" text-anchor="middle" textLength="27" lengthAdjust="spacingAndGlyphs" stroke="#cf2a3c" stroke-width="0.2">O14</text>
<circle cx="126.9" cy="509.8" r="15.2" fill="#fff" stroke="#111" stroke-width="1.9"/>
<text transform="translate(132.01,509.8) rotate(-90)" x="0" y="0" font-size="14.2" fill="#3a7ab6" font-weight="bold" text-anchor="middle" textLength="27" lengthAdjust="spacingAndGlyphs" stroke="#3a7ab6" stroke-width="0.2">O29</text>
<line x1="165.6" y1="176" x2="165.6" y2="184" stroke="#111" stroke-width="1.6"/>
<circle cx="165.6" cy="161.3" r="15.2" fill="#fff" stroke="#111" stroke-width="1.9"/>
<text transform="translate(170.71,161.3) rotate(-90)" x="0" y="0" font-size="14.2" fill="#3a7ab6" font-weight="bold" text-anchor="middle" textLength="27" lengthAdjust="spacingAndGlyphs" stroke="#3a7ab6" stroke-width="0.2">O18</text>
<circle cx="165.6" cy="198.4" r="15.2" fill="#fff" stroke="#111" stroke-width="1.9"/>
<text transform="translate(170.71,198.4) rotate(-90)" x="0" y="0" font-size="14.2" fill="#cf2a3c" font-weight="bold" text-anchor="middle" textLength="17.4" lengthAdjust="spacingAndGlyphs" stroke="#cf2a3c" stroke-width="0.2">O3</text>
<line x1="165.6" y1="488" x2="165.6" y2="495" stroke="#111" stroke-width="1.6"/>
<circle cx="165.6" cy="473.3" r="15.2" fill="#fff" stroke="#111" stroke-width="1.9"/>
<text transform="translate(170.71,473.3) rotate(-90)" x="0" y="0" font-size="14.2" fill="#cf2a3c" font-weight="bold" text-anchor="middle" textLength="27" lengthAdjust="spacingAndGlyphs" stroke="#cf2a3c" stroke-width="0.2">O13</text>
<circle cx="165.6" cy="509.8" r="15.2" fill="#fff" stroke="#111" stroke-width="1.9"/>
<text transform="translate(170.71,509.8) rotate(-90)" x="0" y="0" font-size="14.2" fill="#3a7ab6" font-weight="bold" text-anchor="middle" textLength="27" lengthAdjust="spacingAndGlyphs" stroke="#3a7ab6" stroke-width="0.2">O28</text>
<line x1="204.2" y1="176" x2="204.2" y2="184" stroke="#111" stroke-width="1.6"/>
<circle cx="204.2" cy="161.3" r="15.2" fill="#fff" stroke="#111" stroke-width="1.9"/>
<text transform="translate(209.31,161.3) rotate(-90)" x="0" y="0" font-size="14.2" fill="#3a7ab6" font-weight="bold" text-anchor="middle" textLength="27" lengthAdjust="spacingAndGlyphs" stroke="#3a7ab6" stroke-width="0.2">O19</text>
<circle cx="204.2" cy="198.4" r="15.2" fill="#fff" stroke="#111" stroke-width="1.9"/>
<text transform="translate(209.31,198.4) rotate(-90)" x="0" y="0" font-size="14.2" fill="#cf2a3c" font-weight="bold" text-anchor="middle" textLength="17.4" lengthAdjust="spacingAndGlyphs" stroke="#cf2a3c" stroke-width="0.2">O4</text>
<line x1="204.2" y1="488" x2="204.2" y2="495" stroke="#111" stroke-width="1.6"/>
<circle cx="204.2" cy="473.3" r="15.2" fill="#fff" stroke="#111" stroke-width="1.9"/>
<text transform="translate(209.31,473.3) rotate(-90)" x="0" y="0" font-size="14.2" fill="#cf2a3c" font-weight="bold" text-anchor="middle" textLength="27" lengthAdjust="spacingAndGlyphs" stroke="#cf2a3c" stroke-width="0.2">O12</text>
<circle cx="204.2" cy="509.8" r="15.2" fill="#fff" stroke="#111" stroke-width="1.9"/>
<text transform="translate(209.31,509.8) rotate(-90)" x="0" y="0" font-size="14.2" fill="#3a7ab6" font-weight="bold" text-anchor="middle" textLength="27" lengthAdjust="spacingAndGlyphs" stroke="#3a7ab6" stroke-width="0.2">O27</text>
<line x1="242.9" y1="176" x2="242.9" y2="184" stroke="#111" stroke-width="1.6"/>
<circle cx="242.9" cy="161.3" r="15.2" fill="#fff" stroke="#111" stroke-width="1.9"/>
<text transform="translate(248.01,161.3) rotate(-90)" x="0" y="0" font-size="14.2" fill="#3a7ab6" font-weight="bold" text-anchor="middle" textLength="27" lengthAdjust="spacingAndGlyphs" stroke="#3a7ab6" stroke-width="0.2">O20</text>
<circle cx="242.9" cy="198.4" r="15.2" fill="#fff" stroke="#111" stroke-width="1.9"/>
<text transform="translate(248.01,198.4) rotate(-90)" x="0" y="0" font-size="14.2" fill="#cf2a3c" font-weight="bold" text-anchor="middle" textLength="17.4" lengthAdjust="spacingAndGlyphs" stroke="#cf2a3c" stroke-width="0.2">O5</text>
<line x1="242.9" y1="488" x2="242.9" y2="495" stroke="#111" stroke-width="1.6"/>
<circle cx="242.9" cy="473.3" r="15.2" fill="#fff" stroke="#111" stroke-width="1.9"/>
<text transform="translate(248.01,473.3) rotate(-90)" x="0" y="0" font-size="14.2" fill="#cf2a3c" font-weight="bold" text-anchor="middle" textLength="27" lengthAdjust="spacingAndGlyphs" stroke="#cf2a3c" stroke-width="0.2">O11</text>
<circle cx="242.9" cy="509.8" r="15.2" fill="#fff" stroke="#111" stroke-width="1.9"/>
<text transform="translate(248.01,509.8) rotate(-90)" x="0" y="0" font-size="14.2" fill="#3a7ab6" font-weight="bold" text-anchor="middle" textLength="27" lengthAdjust="spacingAndGlyphs" stroke="#3a7ab6" stroke-width="0.2">O26</text>
<circle cx="391.7" cy="238" r="10.6" fill="#fff" stroke="#111" stroke-width="1.6"/>
<text transform="translate(395.48,238) rotate(-90)" x="0" y="0" font-size="10.5" fill="#3a7ab6" font-weight="bold" text-anchor="middle" textLength="19" lengthAdjust="spacingAndGlyphs">O21</text>
<circle cx="391.7" cy="263.4" r="10.6" fill="#fff" stroke="#111" stroke-width="1.6"/>
<text transform="translate(395.48,263.4) rotate(-90)" x="0" y="0" font-size="10.5" fill="#cf2a3c" font-weight="bold" text-anchor="middle" textLength="12.5" lengthAdjust="spacingAndGlyphs">O6</text>
<circle cx="382.8" cy="300.7" r="10.6" fill="#fff" stroke="#111" stroke-width="1.6"/>
<text transform="translate(386.58,300.7) rotate(-90)" x="0" y="0" font-size="10.5" fill="#cf2a3c" font-weight="bold" text-anchor="middle" textLength="12.5" lengthAdjust="spacingAndGlyphs">O7</text>
<circle cx="405.7" cy="300.7" r="10.6" fill="#fff" stroke="#111" stroke-width="1.6"/>
<text transform="translate(409.48,300.7) rotate(-90)" x="0" y="0" font-size="10.5" fill="#3a7ab6" font-weight="bold" text-anchor="middle" textLength="19" lengthAdjust="spacingAndGlyphs">O22</text>
<circle cx="383.2" cy="337.9" r="10.6" fill="#fff" stroke="#111" stroke-width="1.6"/>
<text transform="translate(386.98,337.9) rotate(-90)" x="0" y="0" font-size="10.5" fill="#cf2a3c" font-weight="bold" text-anchor="middle" textLength="12.5" lengthAdjust="spacingAndGlyphs">O8</text>
<circle cx="405.1" cy="337.9" r="10.6" fill="#fff" stroke="#111" stroke-width="1.6"/>
<text transform="translate(408.88,337.9) rotate(-90)" x="0" y="0" font-size="10.5" fill="#3a7ab6" font-weight="bold" text-anchor="middle" textLength="19" lengthAdjust="spacingAndGlyphs">O23</text>
<circle cx="383.2" cy="375.6" r="10.6" fill="#fff" stroke="#111" stroke-width="1.6"/>
<text transform="translate(386.98,375.6) rotate(-90)" x="0" y="0" font-size="10.5" fill="#cf2a3c" font-weight="bold" text-anchor="middle" textLength="12.5" lengthAdjust="spacingAndGlyphs">O9</text>
<circle cx="405.1" cy="375.6" r="10.6" fill="#fff" stroke="#111" stroke-width="1.6"/>
<text transform="translate(408.88,375.6) rotate(-90)" x="0" y="0" font-size="10.5" fill="#3a7ab6" font-weight="bold" text-anchor="middle" textLength="19" lengthAdjust="spacingAndGlyphs">O24</text>
<circle cx="391.5" cy="409.5" r="10.6" fill="#fff" stroke="#111" stroke-width="1.6"/>
<text transform="translate(395.28,409.5) rotate(-90)" x="0" y="0" font-size="10.5" fill="#3a7ab6" font-weight="bold" text-anchor="middle" textLength="19" lengthAdjust="spacingAndGlyphs">O25</text>
<circle cx="391.5" cy="433.6" r="10.6" fill="#fff" stroke="#111" stroke-width="1.6"/>
<text transform="translate(395.28,433.6) rotate(-90)" x="0" y="0" font-size="10.5" fill="#cf2a3c" font-weight="bold" text-anchor="middle" textLength="19" lengthAdjust="spacingAndGlyphs">O10</text>
<line x1="612.3" y1="180" x2="612.3" y2="187" stroke="#111" stroke-width="1.6"/>
<circle cx="612.3" cy="164.8" r="15.2" fill="#fff" stroke="#111" stroke-width="1.9"/>
<text transform="translate(617.41,164.8) rotate(-90)" x="0" y="0" font-size="14.2" fill="#3a7ab6" font-weight="bold" text-anchor="middle" textLength="21.5" lengthAdjust="spacingAndGlyphs" stroke="#3a7ab6" stroke-width="0.2">E16</text>
<circle cx="612.3" cy="202.4" r="15.2" fill="#fff" stroke="#111" stroke-width="1.9"/>
<text transform="translate(617.41,202.4) rotate(-90)" x="0" y="0" font-size="14.2" fill="#cf2a3c" font-weight="bold" text-anchor="middle" textLength="12.5" lengthAdjust="spacingAndGlyphs" stroke="#cf2a3c" stroke-width="0.2">E1</text>
<line x1="662.6" y1="180" x2="662.6" y2="187" stroke="#111" stroke-width="1.6"/>
<circle cx="662.6" cy="164.8" r="15.2" fill="#fff" stroke="#111" stroke-width="1.9"/>
<text transform="translate(667.71,164.8) rotate(-90)" x="0" y="0" font-size="14.2" fill="#3a7ab6" font-weight="bold" text-anchor="middle" textLength="21.5" lengthAdjust="spacingAndGlyphs" stroke="#3a7ab6" stroke-width="0.2">E17</text>
<circle cx="662.6" cy="202.4" r="15.2" fill="#fff" stroke="#111" stroke-width="1.9"/>
<text transform="translate(667.71,202.4) rotate(-90)" x="0" y="0" font-size="14.2" fill="#cf2a3c" font-weight="bold" text-anchor="middle" textLength="12.5" lengthAdjust="spacingAndGlyphs" stroke="#cf2a3c" stroke-width="0.2">E2</text>
<line x1="701.0" y1="180" x2="701.0" y2="187" stroke="#111" stroke-width="1.6"/>
<circle cx="701.0" cy="164.8" r="15.2" fill="#fff" stroke="#111" stroke-width="1.9"/>
<text transform="translate(706.11,164.8) rotate(-90)" x="0" y="0" font-size="14.2" fill="#3a7ab6" font-weight="bold" text-anchor="middle" textLength="21.5" lengthAdjust="spacingAndGlyphs" stroke="#3a7ab6" stroke-width="0.2">E18</text>
<circle cx="701.0" cy="202.4" r="15.2" fill="#fff" stroke="#111" stroke-width="1.9"/>
<text transform="translate(706.11,202.4) rotate(-90)" x="0" y="0" font-size="14.2" fill="#cf2a3c" font-weight="bold" text-anchor="middle" textLength="12.5" lengthAdjust="spacingAndGlyphs" stroke="#cf2a3c" stroke-width="0.2">E3</text>
<line x1="739.7" y1="180" x2="739.7" y2="187" stroke="#111" stroke-width="1.6"/>
<circle cx="739.7" cy="164.8" r="15.2" fill="#fff" stroke="#111" stroke-width="1.9"/>
<text transform="translate(744.81,164.8) rotate(-90)" x="0" y="0" font-size="14.2" fill="#3a7ab6" font-weight="bold" text-anchor="middle" textLength="21.5" lengthAdjust="spacingAndGlyphs" stroke="#3a7ab6" stroke-width="0.2">E19</text>
<circle cx="739.7" cy="202.4" r="15.2" fill="#fff" stroke="#111" stroke-width="1.9"/>
<text transform="translate(744.81,202.4) rotate(-90)" x="0" y="0" font-size="14.2" fill="#cf2a3c" font-weight="bold" text-anchor="middle" textLength="12.5" lengthAdjust="spacingAndGlyphs" stroke="#cf2a3c" stroke-width="0.2">E4</text>
<line x1="778.6" y1="180" x2="778.6" y2="187" stroke="#111" stroke-width="1.6"/>
<circle cx="778.6" cy="164.8" r="15.2" fill="#fff" stroke="#111" stroke-width="1.9"/>
<text transform="translate(783.71,164.8) rotate(-90)" x="0" y="0" font-size="14.2" fill="#3a7ab6" font-weight="bold" text-anchor="middle" textLength="21.5" lengthAdjust="spacingAndGlyphs" stroke="#3a7ab6" stroke-width="0.2">E20</text>
<circle cx="778.6" cy="202.4" r="15.2" fill="#fff" stroke="#111" stroke-width="1.9"/>
<text transform="translate(783.71,202.4) rotate(-90)" x="0" y="0" font-size="14.2" fill="#cf2a3c" font-weight="bold" text-anchor="middle" textLength="12.5" lengthAdjust="spacingAndGlyphs" stroke="#cf2a3c" stroke-width="0.2">E5</text>
<line x1="613.0" y1="489" x2="613.0" y2="496" stroke="#111" stroke-width="1.6"/>
<circle cx="613.0" cy="474.4" r="15.2" fill="#fff" stroke="#111" stroke-width="1.9"/>
<text transform="translate(618.11,474.4) rotate(-90)" x="0" y="0" font-size="14.2" fill="#cf2a3c" font-weight="bold" text-anchor="middle" textLength="21.5" lengthAdjust="spacingAndGlyphs" stroke="#cf2a3c" stroke-width="0.2">E15</text>
<circle cx="613.0" cy="510.9" r="15.2" fill="#fff" stroke="#111" stroke-width="1.9"/>
<text transform="translate(618.11,510.9) rotate(-90)" x="0" y="0" font-size="14.2" fill="#3a7ab6" font-weight="bold" text-anchor="middle" textLength="21.5" lengthAdjust="spacingAndGlyphs" stroke="#3a7ab6" stroke-width="0.2">E30</text>
<line x1="663.0" y1="489" x2="663.0" y2="496" stroke="#111" stroke-width="1.6"/>
<circle cx="663.0" cy="474.4" r="15.2" fill="#fff" stroke="#111" stroke-width="1.9"/>
<text transform="translate(668.11,474.4) rotate(-90)" x="0" y="0" font-size="14.2" fill="#cf2a3c" font-weight="bold" text-anchor="middle" textLength="21.5" lengthAdjust="spacingAndGlyphs" stroke="#cf2a3c" stroke-width="0.2">E14</text>
<circle cx="663.0" cy="510.9" r="15.2" fill="#fff" stroke="#111" stroke-width="1.9"/>
<text transform="translate(668.11,510.9) rotate(-90)" x="0" y="0" font-size="14.2" fill="#3a7ab6" font-weight="bold" text-anchor="middle" textLength="21.5" lengthAdjust="spacingAndGlyphs" stroke="#3a7ab6" stroke-width="0.2">E29</text>
<line x1="701.7" y1="489" x2="701.7" y2="496" stroke="#111" stroke-width="1.6"/>
<circle cx="701.7" cy="474.4" r="15.2" fill="#fff" stroke="#111" stroke-width="1.9"/>
<text transform="translate(706.81,474.4) rotate(-90)" x="0" y="0" font-size="14.2" fill="#cf2a3c" font-weight="bold" text-anchor="middle" textLength="21.5" lengthAdjust="spacingAndGlyphs" stroke="#cf2a3c" stroke-width="0.2">E13</text>
<circle cx="701.7" cy="510.9" r="15.2" fill="#fff" stroke="#111" stroke-width="1.9"/>
<text transform="translate(706.81,510.9) rotate(-90)" x="0" y="0" font-size="14.2" fill="#3a7ab6" font-weight="bold" text-anchor="middle" textLength="21.5" lengthAdjust="spacingAndGlyphs" stroke="#3a7ab6" stroke-width="0.2">E28</text>
<line x1="740.4" y1="489" x2="740.4" y2="496" stroke="#111" stroke-width="1.6"/>
<circle cx="740.4" cy="474.4" r="15.2" fill="#fff" stroke="#111" stroke-width="1.9"/>
<text transform="translate(745.51,474.4) rotate(-90)" x="0" y="0" font-size="14.2" fill="#cf2a3c" font-weight="bold" text-anchor="middle" textLength="21.5" lengthAdjust="spacingAndGlyphs" stroke="#cf2a3c" stroke-width="0.2">E12</text>
<circle cx="740.4" cy="510.9" r="15.2" fill="#fff" stroke="#111" stroke-width="1.9"/>
<text transform="translate(745.51,510.9) rotate(-90)" x="0" y="0" font-size="14.2" fill="#3a7ab6" font-weight="bold" text-anchor="middle" textLength="21.5" lengthAdjust="spacingAndGlyphs" stroke="#3a7ab6" stroke-width="0.2">E27</text>
<line x1="779.0" y1="489" x2="779.0" y2="496" stroke="#111" stroke-width="1.6"/>
<circle cx="779.0" cy="474.4" r="15.2" fill="#fff" stroke="#111" stroke-width="1.9"/>
<text transform="translate(784.11,474.4) rotate(-90)" x="0" y="0" font-size="14.2" fill="#cf2a3c" font-weight="bold" text-anchor="middle" textLength="21.5" lengthAdjust="spacingAndGlyphs" stroke="#cf2a3c" stroke-width="0.2">E11</text>
<circle cx="779.0" cy="510.9" r="15.2" fill="#fff" stroke="#111" stroke-width="1.9"/>
<text transform="translate(784.11,510.9) rotate(-90)" x="0" y="0" font-size="14.2" fill="#3a7ab6" font-weight="bold" text-anchor="middle" textLength="21.5" lengthAdjust="spacingAndGlyphs" stroke="#3a7ab6" stroke-width="0.2">E26</text>
<circle cx="637.3" cy="132.6" r="15.2" fill="#fff" stroke="#111" stroke-width="1.9"/>
<text transform="translate(642.41,132.6) rotate(-90)" x="0" y="0" font-size="14.2" fill="#2e9a55" font-weight="bold" text-anchor="middle" textLength="21.5" lengthAdjust="spacingAndGlyphs" stroke="#2e9a55" stroke-width="0.2">E31</text>
<circle cx="759.7" cy="132.6" r="15.2" fill="#fff" stroke="#111" stroke-width="1.9"/>
<text transform="translate(764.81,132.6) rotate(-90)" x="0" y="0" font-size="14.2" fill="#2e9a55" font-weight="bold" text-anchor="middle" textLength="21.5" lengthAdjust="spacingAndGlyphs" stroke="#2e9a55" stroke-width="0.2">E32</text>
<circle cx="933.5" cy="237.9" r="10.8" fill="#fff" stroke="#111" stroke-width="1.6"/>
<text transform="translate(936.96,237.9) rotate(-90)" x="0" y="0" font-size="9.6" fill="#3a7ab6" font-weight="bold" text-anchor="middle" textLength="15.5" lengthAdjust="spacingAndGlyphs">E21</text>
<circle cx="933.5" cy="263.1" r="10.8" fill="#fff" stroke="#111" stroke-width="1.6"/>
<text transform="translate(936.96,263.1) rotate(-90)" x="0" y="0" font-size="9.6" fill="#cf2a3c" font-weight="bold" text-anchor="middle" textLength="10.2" lengthAdjust="spacingAndGlyphs">E6</text>
<circle cx="957.3" cy="277.2" r="10.8" fill="#fff" stroke="#111" stroke-width="1.6"/>
<text transform="translate(960.76,277.2) rotate(-90)" x="0" y="0" font-size="9.6" fill="#2e9a55" font-weight="bold" text-anchor="middle" textLength="15.5" lengthAdjust="spacingAndGlyphs">E33</text>
<circle cx="925.2" cy="299.6" r="10.8" fill="#fff" stroke="#111" stroke-width="1.6"/>
<text transform="translate(928.66,299.6) rotate(-90)" x="0" y="0" font-size="9.6" fill="#cf2a3c" font-weight="bold" text-anchor="middle" textLength="10.2" lengthAdjust="spacingAndGlyphs">E7</text>
<circle cx="948.1" cy="299.6" r="10.8" fill="#fff" stroke="#111" stroke-width="1.6"/>
<text transform="translate(951.56,299.6) rotate(-90)" x="0" y="0" font-size="9.6" fill="#3a7ab6" font-weight="bold" text-anchor="middle" textLength="15.5" lengthAdjust="spacingAndGlyphs">E22</text>
<circle cx="925.2" cy="338" r="10.8" fill="#fff" stroke="#111" stroke-width="1.6"/>
<text transform="translate(928.66,338) rotate(-90)" x="0" y="0" font-size="9.6" fill="#cf2a3c" font-weight="bold" text-anchor="middle" textLength="10.2" lengthAdjust="spacingAndGlyphs">E8</text>
<circle cx="947.6" cy="338" r="10.8" fill="#fff" stroke="#111" stroke-width="1.6"/>
<text transform="translate(951.06,338) rotate(-90)" x="0" y="0" font-size="9.6" fill="#3a7ab6" font-weight="bold" text-anchor="middle" textLength="15.5" lengthAdjust="spacingAndGlyphs">E23</text>
<circle cx="925.2" cy="375.7" r="10.8" fill="#fff" stroke="#111" stroke-width="1.6"/>
<text transform="translate(928.66,375.7) rotate(-90)" x="0" y="0" font-size="9.6" fill="#cf2a3c" font-weight="bold" text-anchor="middle" textLength="10.2" lengthAdjust="spacingAndGlyphs">E9</text>
<circle cx="947.6" cy="375.7" r="10.8" fill="#fff" stroke="#111" stroke-width="1.6"/>
<text transform="translate(951.06,375.7) rotate(-90)" x="0" y="0" font-size="9.6" fill="#3a7ab6" font-weight="bold" text-anchor="middle" textLength="15.5" lengthAdjust="spacingAndGlyphs">E24</text>
<circle cx="957.2" cy="397.7" r="10.8" fill="#fff" stroke="#111" stroke-width="1.6"/>
<text transform="translate(960.66,397.7) rotate(-90)" x="0" y="0" font-size="9.6" fill="#2e9a55" font-weight="bold" text-anchor="middle" textLength="15.5" lengthAdjust="spacingAndGlyphs">E34</text>
<circle cx="933.3" cy="408.4" r="10.8" fill="#fff" stroke="#111" stroke-width="1.6"/>
<text transform="translate(936.76,408.4) rotate(-90)" x="0" y="0" font-size="9.6" fill="#3a7ab6" font-weight="bold" text-anchor="middle" textLength="15.5" lengthAdjust="spacingAndGlyphs">E25</text>
<circle cx="933.3" cy="433.6" r="10.8" fill="#fff" stroke="#111" stroke-width="1.6"/>
<text transform="translate(936.76,433.6) rotate(-90)" x="0" y="0" font-size="9.6" fill="#cf2a3c" font-weight="bold" text-anchor="middle" textLength="15.5" lengthAdjust="spacingAndGlyphs">E10</text>
<text x="124.2" y="557.8" font-size="27" fill="#d42b3a" font-weight="bold" text-anchor="start" textLength="75.8" lengthAdjust="spacingAndGlyphs" >FASE 1</text>
<text x="677.6" y="556.1" font-size="27" fill="#d42b3a" font-weight="bold" text-anchor="start" textLength="79.7" lengthAdjust="spacingAndGlyphs" >FASE 2</text>
<text x="418.2" y="602.8" font-size="22" fill="#151515" font-weight="bold" text-anchor="start" textLength="190.8" lengthAdjust="spacingAndGlyphs" >PLANO GENERAL</text>
<rect x="232.8" y="618" width="564.8" height="60.3" fill="none" stroke="#151515" stroke-width="1.6"/>
<text x="241.5" y="643.3" font-size="19.5" fill="#151515" font-weight="bold" text-anchor="start" textLength="91.8" lengthAdjust="spacingAndGlyphs" >* PISCINA</text>
<text x="241.5" y="669" font-size="19.5" fill="#151515" font-weight="bold" text-anchor="start" textLength="159" lengthAdjust="spacingAndGlyphs" >* PISTA DE PADEL</text>
<text x="418.6" y="646" font-size="19.5" fill="#151515" font-weight="bold" text-anchor="start" textLength="230.4" lengthAdjust="spacingAndGlyphs" >* GARAJE SUBTERRÁNEO</text>
<text x="418.2" y="668.9" font-size="19.5" fill="#151515" font-weight="bold" text-anchor="start" textLength="238" lengthAdjust="spacingAndGlyphs" >CON PARKING INCLUIDO</text>
<text x="673" y="668.9" font-size="19.5" fill="#151515" font-weight="bold" text-anchor="start" textLength="117.4" lengthAdjust="spacingAndGlyphs" >* ASCENSOR</text>
<circle cx="63.3" cy="667.8" r="30.8" fill="none" stroke="#151515" stroke-width="1.5"/>
<rect x="60.2" y="636.6" width="5.4" height="32" fill="#151515"/>
<text x="63.3" y="631.1" font-size="17" fill="#151515" font-weight="bold" text-anchor="middle" >N</text>
<text x="21" y="674" font-size="16.5" fill="#151515" font-weight="bold" text-anchor="middle" >O</text>
<text x="102" y="674" font-size="16.5" fill="#151515" font-weight="bold" text-anchor="middle" >E</text>
<text x="63.7" y="716.2" font-size="17" fill="#151515" font-weight="bold" text-anchor="middle" >S</text>
<text transform="translate(996,265.2) rotate(90)" x="0" y="0" font-size="26" fill="#151515" font-weight="bold" textLength="168.4" lengthAdjust="spacingAndGlyphs">VISTAS AL MAR</text>
<path d="M968.3 287.3 H983 V282.4 L991.2 291.2 L983 300.2 V295.09999999999997 H968.3 Z" fill="#fff" stroke="#151515" stroke-width="1.7"/>
<path d="M968.3 408.3 H983 V403.4 L991.2 412.2 L983 421.2 V416.09999999999997 H968.3 Z" fill="#fff" stroke="#151515" stroke-width="1.7"/>
</svg></body></html>
